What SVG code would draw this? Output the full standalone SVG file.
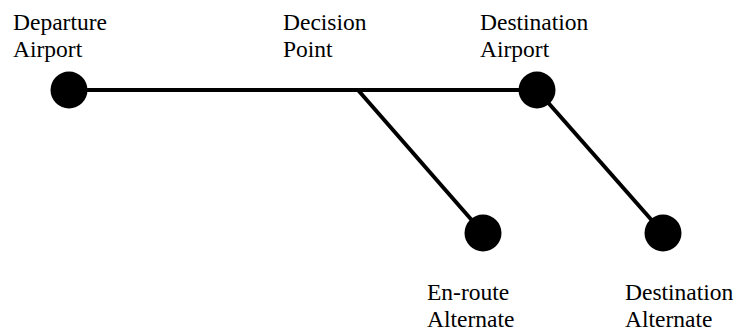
<svg xmlns="http://www.w3.org/2000/svg" width="736" height="331" viewBox="0 0 736 331">
<style>
text{font-family:'Liberation Serif','Times New Roman',serif;font-size:23.5px;fill:#000}
.edge{stroke:#000;stroke-width:4;fill:none}
.node{fill:#000}
</style>
<rect width="736" height="331" fill="#fff"/>
<g id="connectors">
<line class="edge" x1="69" y1="90" x2="537" y2="90"/>
<line class="edge" x1="358" y1="90" x2="483" y2="233"/>
<line class="edge" x1="537" y1="90" x2="663" y2="233"/>
</g>
<g id="departure">
<circle class="node" cx="69" cy="90" r="18.5"/>
<text x="13" y="30">Departure</text>
<text x="13" y="57">Airport</text>
</g>
<g id="decision">
<text x="283" y="30">Decision</text>
<text x="283" y="57">Point</text>
</g>
<g id="destination">
<circle class="node" cx="537" cy="90" r="18.5"/>
<text x="480" y="30">Destination</text>
<text x="480" y="57">Airport</text>
</g>
<g id="enroute">
<circle class="node" cx="483" cy="233" r="18.5"/>
<text x="427" y="300">En-route</text>
<text x="427" y="327">Alternate</text>
</g>
<g id="destalt">
<circle class="node" cx="663" cy="233" r="18.5"/>
<text x="625" y="300">Destination</text>
<text x="625" y="327">Alternate</text>
</g>
</svg>
